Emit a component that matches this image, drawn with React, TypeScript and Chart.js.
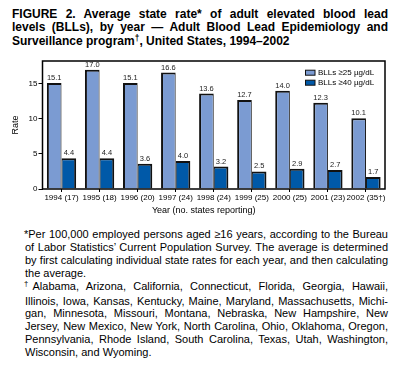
import React, { useEffect, useRef } from 'react';
import { Chart, registerables } from 'chart.js';

Chart.register(...registerables);

const categories = ['1994 (17)', '1995 (18)', '1996 (20)', '1997 (24)', '1998 (24)', '1999 (25)', '2000 (25)', '2001 (23)', '2002 (35\u2020)'];
const bll25 = [15.1, 17.0, 15.1, 16.6, 13.6, 12.7, 14.0, 12.3, 10.1];
const bll40 = [4.4, 4.4, 3.6, 4.0, 3.2, 2.5, 2.9, 2.7, 1.7];
const yTicks = [0, 5, 10, 15];
const seriesLabels = ['BLLs \u226525 \u00b5g/dL', 'BLLs \u226540 \u00b5g/dL'];
const xTitle = 'Year (no. states reporting)';
const yTitle = 'Rate';

const FONT = "'Liberation Sans', Arial, Helvetica, sans-serif";
const LIGHT = '#7b9bd2';
const DARK = '#0059a8';
const EDGE = '#111111';

const extrasPlugin = {
  id: 'extras',
  afterDatasetsDraw(chart: any) {
    const { ctx, chartArea: a } = chart;
    ctx.save();
    // value labels
    ctx.fillStyle = '#222';
    ctx.font = `7.5px ${FONT}`;
    ctx.textAlign = 'center';
    ctx.textBaseline = 'alphabetic';
    chart.data.datasets.forEach((ds: any, di: number) => {
      const meta = chart.getDatasetMeta(di);
      meta.data.forEach((el: any, i: number) => {
        ctx.fillText(Number(ds.data[i]).toFixed(1), el.x, el.y - 3);
      });
    });
    // frame
    ctx.strokeStyle = '#000';
    ctx.lineWidth = 1.5;
    ctx.strokeRect(a.left, a.top, a.right - a.left, a.bottom - a.top);
    // legend
    const colors = [LIGHT, DARK];
    ctx.font = `8px ${FONT}`;
    ctx.textAlign = 'left';
    ctx.textBaseline = 'middle';
    seriesLabels.forEach((lab, i) => {
      const cy = a.top + 11.7 + i * 10;
      const bx = a.right - 80;
      ctx.fillStyle = colors[i];
      ctx.fillRect(bx, cy - 2.5, 10, 5);
      ctx.lineWidth = 1;
      ctx.strokeStyle = EDGE;
      ctx.strokeRect(bx + 0.5, cy - 2.5, 9.5, 5);
      ctx.fillStyle = '#000';
      ctx.fillText(lab, bx + 13, cy);
    });
    // x title
    ctx.font = `9px ${FONT}`;
    ctx.textAlign = 'center';
    ctx.fillText(xTitle, (a.left + a.right) / 2 - 10, a.bottom + 22);
    ctx.restore();
  },
};

function BarChart() {
  const ref = useRef<HTMLCanvasElement>(null);
  useEffect(() => {
    if (!ref.current) return;
    const chart = new Chart(ref.current, {
      type: 'bar',
      data: {
        labels: categories,
        datasets: [
          {
            label: seriesLabels[0],
            data: bll25,
            backgroundColor: LIGHT,
            borderColor: EDGE,
            borderWidth: { top: 2, left: 2, right: 1, bottom: 0 },
            borderSkipped: 'bottom',
            inflateAmount: 0,
            categoryPercentage: 0.77,
            barPercentage: 1,
          },
          {
            label: seriesLabels[1],
            data: bll40,
            backgroundColor: DARK,
            borderColor: EDGE,
            borderWidth: { top: 2, left: 1, right: 2, bottom: 0 },
            borderSkipped: 'bottom',
            inflateAmount: 0,
            categoryPercentage: 0.77,
            barPercentage: 1,
          },
        ],
      },
      options: {
        animation: false,
        responsive: true,
        maintainAspectRatio: false,
        layout: { padding: { top: 13, right: 13, left: 0, bottom: 0 } },
        plugins: {
          legend: { display: false },
          tooltip: { enabled: false },
          title: { display: false },
        },
        scales: {
          x: {
            grid: { offset: false, drawOnChartArea: false, drawTicks: true, tickLength: 3, tickColor: '#000', tickWidth: 1 },
            border: { display: false },
            ticks: { color: '#000', font: { family: FONT, size: 8 }, padding: 1, maxRotation: 0, autoSkip: false },
            afterFit: (scale: any) => { scale.height = 37; },
          },
          y: {
            min: 0,
            max: 18.25,
            afterBuildTicks: (scale: any) => { scale.ticks = yTicks.map((v) => ({ value: v })); },
            grid: { drawOnChartArea: false, drawTicks: true, tickLength: 4, tickColor: '#000', tickWidth: 1 },
            border: { display: false },
            ticks: { color: '#000', font: { family: FONT, size: 8 }, padding: 1 },
            title: { display: true, text: yTitle, color: '#000', font: { family: FONT, size: 9, lineHeight: 1 }, padding: { top: 11.5, bottom: 0 } },
            afterFit: (scale: any) => { scale.width = 42.5; },
          },
        },
      },
      plugins: [extrasPlugin],
    });
    return () => chart.destroy();
  }, []);
  return <canvas ref={ref} />;
}

const lineStyle: React.CSSProperties = { whiteSpace: 'nowrap', textAlign: 'justify', textAlignLast: 'justify' as any };
const lastStyle: React.CSSProperties = { whiteSpace: 'nowrap', textAlign: 'left' };
const sup: React.CSSProperties = { fontSize: '0.7em', position: 'relative', top: '-0.45em' };

export default function App() {
  return (
    <div style={{ position: 'relative', width: 398, height: 374, fontFamily: FONT, color: '#000', background: '#fff', overflow: 'hidden' }}>
      <style>{`body{margin:0;background:#fff}`}</style>
      <div style={{ position: 'absolute', left: 12, top: 7.5, width: 376, fontSize: 12, fontWeight: 'bold', lineHeight: '13.5px' }}>
        <div style={lineStyle}>FIGURE 2. Average state rate* of adult elevated blood lead</div>
        <div style={lineStyle}>levels (BLLs), by year — Adult Blood Lead Epidemiology and</div>
        <div style={lastStyle}>Surveillance program<span style={sup}>†</span>, United States, 1994–2002</div>
      </div>
      <div style={{ position: 'absolute', left: 0, top: 48, width: 398, height: 178 }}>
        <BarChart />
      </div>
      <div style={{ position: 'absolute', left: 25, top: 228, width: 363, fontSize: 11, lineHeight: '12.9px' }}>
        <div style={{ ...lineStyle, textIndent: -1 }}>*Per 100,000 employed persons aged ≥16 years, according to the Bureau</div>
        <div style={lineStyle}>of Labor Statistics’ Current Population Survey. The average is determined</div>
        <div style={lineStyle}>by first calculating individual state rates for each year, and then calculating</div>
        <div style={lastStyle}>the average.</div>
        <div style={{ ...lineStyle, textIndent: -1 }}><span style={sup}>†</span>Alabama, Arizona, California, Connecticut, Florida, Georgia, Hawaii,</div>
        <div style={lineStyle}>Illinois, Iowa, Kansas, Kentucky, Maine, Maryland, Massachusetts, Michi-</div>
        <div style={lineStyle}>gan, Minnesota, Missouri, Montana, Nebraska, New Hampshire, New</div>
        <div style={lineStyle}>Jersey, New Mexico, New York, North Carolina, Ohio, Oklahoma, Oregon,</div>
        <div style={lineStyle}>Pennsylvania, Rhode Island, South Carolina, Texas, Utah, Washington,</div>
        <div style={lastStyle}>Wisconsin, and Wyoming.</div>
      </div>
    </div>
  );
}
